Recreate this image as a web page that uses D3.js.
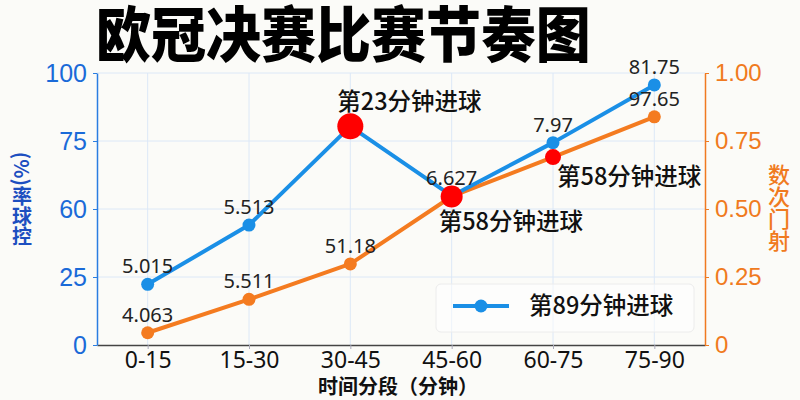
<!DOCTYPE html>
<html><head><meta charset="utf-8">
<script src="https://cdn.jsdelivr.net/npm/d3@7"></script>
<style>
html,body{margin:0;padding:0;background:#fbfbf8;}
svg{display:block;font-family:"Noto Sans","Noto Sans CJK SC",sans-serif;}
</style></head>
<body><svg id="c" width="800" height="400"></svg>
<script>
const categories = ["0-15","15-30","30-45","45-60","60-75","75-90"];
const possession = [22.3, 44.1, 80.4, 54.8, 74.4, 95.6];
const shots = [0.045, 0.168, 0.298, 0.546, 0.691, 0.839];
const possessionLabels = ["5.015","5.513","","6.627","7.97","81.75"];
const shotLabels = ["4.063","5.511","51.18","","","97.65"];
const leftTicks = [0,25,50,75,100];
const leftTickLabels = ["0","25","60","75","100"];
const rightTicks = [0,0.25,0.5,0.75,1];
const rightTickLabels = ["0","0.25","0.50","0.75","1.00"];
const events = [
  {cat:"30-45", series:"possession", text:"第23分钟进球", r:13, dx:-13, dy:-25},
  {cat:"45-60", series:"shots", text:"第58分钟进球", r:11, dx:-13, dy:25},
  {cat:"60-75", series:"shots", text:"第58分钟进球", r:8, dx:4, dy:20}
];
const title = "欧冠决赛比赛节奏图";
const xTitle = "时间分段（分钟）";
const leftTitle = "(%)率球控";
const rightTitle = "数次门射";
const legendText = "第89分钟进球";

const BLUE = "#1a8fe6", ORANGE = "#f47b20", RED = "#ff0000";
const L = 97, R = 705, T = 73, B = 345;
const svg = d3.select("#c");

const x = d3.scalePoint().domain(categories).range([L, R]).padding(0.5);
const yL = d3.scaleLinear().domain([0,100]).range([B, T]);
const yR = d3.scaleLinear().domain([0,1]).range([B, T]);

// grid
const grid = svg.append("g");
grid.selectAll("line.h").data(leftTicks.filter(d=>d>0)).join("line")
  .attr("x1", L).attr("x2", R).attr("y1", d=>yL(d)).attr("y2", d=>yL(d))
  .attr("stroke", "#dce8f7").attr("stroke-width", 1);
grid.selectAll("line.v").data(categories).join("line")
  .attr("x1", d=>x(d)).attr("x2", d=>x(d)).attr("y1", T).attr("y2", B)
  .attr("stroke", "#dce8f7").attr("stroke-width", 1);

// axes
const axB = svg.append("g").attr("transform", `translate(0,${B})`)
  .call(d3.axisBottom(x).tickSize(4).tickPadding(3).tickSizeOuter(0));
axB.select(".domain").attr("stroke", "#444").attr("stroke-width", 1.5);
axB.selectAll(".tick line").attr("stroke", "#aab");
axB.selectAll("text").attr("font-size", 23).attr("fill", "#111")
  .attr("font-family", "'Noto Sans',sans-serif");

const axL = svg.append("g").attr("transform", `translate(${L},0)`)
  .call(d3.axisLeft(yL).tickValues(leftTicks).tickFormat((d,i)=>leftTickLabels[i]).tickSize(4).tickPadding(6).tickSizeOuter(0));
axL.select(".domain").attr("stroke", "#2a7de1").attr("stroke-width", 1.5);
axL.selectAll(".tick line").attr("stroke", "#2a7de1");
axL.selectAll("text").attr("font-size", 25).attr("fill", "#1a6ad8");

const axR = svg.append("g").attr("transform", `translate(${R},0)`)
  .call(d3.axisRight(yR).tickValues(rightTicks).tickFormat((d,i)=>rightTickLabels[i]).tickSize(4).tickPadding(6).tickSizeOuter(0));
axR.select(".domain").attr("stroke", "#f07a20").attr("stroke-width", 1.5);
axR.selectAll(".tick line").attr("stroke", "#f07a20");
axR.selectAll("text").attr("font-size", 24).attr("fill", "#f07a20");

// lines
const lineL = d3.line().x((d,i)=>x(categories[i])).y(d=>yL(d));
const lineR = d3.line().x((d,i)=>x(categories[i])).y(d=>yR(d));
svg.append("path").datum(shots).attr("d", lineR).attr("fill","none")
  .attr("stroke", ORANGE).attr("stroke-width", 4).attr("stroke-linejoin","round");
svg.selectAll("circle.o").data(shots).join("circle").attr("class","o")
  .attr("cx",(d,i)=>x(categories[i])).attr("cy", d=>yR(d)).attr("r", 6.5).attr("fill", ORANGE);
svg.append("path").datum(possession).attr("d", lineL).attr("fill","none")
  .attr("stroke", BLUE).attr("stroke-width", 4).attr("stroke-linejoin","round");
svg.selectAll("circle.b").data(possession).join("circle").attr("class","b")
  .attr("cx",(d,i)=>x(categories[i])).attr("cy", d=>yL(d)).attr("r", 6.5).attr("fill", BLUE);

// value labels
const lab = svg.append("g").attr("font-size", 20).attr("fill", "#222").attr("text-anchor","middle");
possession.forEach((v,i)=>{ if(possessionLabels[i]) lab.append("text")
  .attr("x", x(categories[i])).attr("y", yL(v)-11).text(possessionLabels[i]); });
shots.forEach((v,i)=>{ if(shotLabels[i]) lab.append("text")
  .attr("x", x(categories[i])).attr("y", yR(v)-11).text(shotLabels[i]); });

// events
events.forEach(e=>{
  const i = categories.indexOf(e.cat);
  const cx = x(e.cat);
  const cy = e.series==="possession" ? yL(possession[i]) : yR(shots[i]);
  svg.append("circle").attr("cx", cx).attr("cy", cy).attr("r", e.r).attr("fill", RED);
  svg.append("text").attr("x", cx+e.dx).attr("y", cy+e.dy).attr("dy","0.35em")
    .attr("font-size", 23.5).attr("font-weight", 500).attr("fill","#111")
    .attr("font-family","'Noto Sans CJK SC',sans-serif").text(e.text);
});

// legend
const lg = svg.append("g");
lg.append("rect").attr("x",436).attr("y",284).attr("width",258).attr("height",48).attr("rx",5)
  .attr("fill","rgba(255,255,255,0.5)").attr("stroke","#ececec");
lg.append("line").attr("x1",453).attr("x2",509).attr("y1",306).attr("y2",306)
  .attr("stroke",BLUE).attr("stroke-width",4);
lg.append("circle").attr("cx",481).attr("cy",306).attr("r",6.5).attr("fill",BLUE);
lg.append("text").attr("x",529).attr("y",306).attr("dy","0.35em").attr("font-size",23.5)
  .attr("font-weight",500).attr("fill","#111").attr("font-family","'Noto Sans CJK SC',sans-serif").text(legendText);

// titles
svg.append("text").attr("transform","translate(96,57) scale(1,1.1)").attr("font-size",55).attr("font-weight",900)
  .attr("fill","#000").attr("font-family","'Noto Sans CJK SC',sans-serif").text(title);
svg.append("text").attr("x",(L+R)/2 - 3).attr("y",387).attr("dy","0.35em").attr("text-anchor","middle")
  .attr("font-size",20).attr("font-weight",700).attr("fill","#111")
  .attr("font-family","'Noto Sans CJK SC',sans-serif").text(xTitle);
svg.append("text").attr("x",22).attr("y",199).attr("text-anchor","middle")
  .style("writing-mode","vertical-rl").attr("font-size",20).attr("font-weight",700).attr("fill","#1d4fc0")
  .attr("font-family","'Noto Sans CJK SC',sans-serif").text(leftTitle);
svg.append("text").attr("x",779).attr("y",208).attr("text-anchor","middle")
  .style("writing-mode","vertical-rl").attr("font-size",22).attr("font-weight",500).attr("fill","#f07a20")
  .attr("font-family","'Noto Sans CJK SC',sans-serif").text(rightTitle);
</script></body></html>
